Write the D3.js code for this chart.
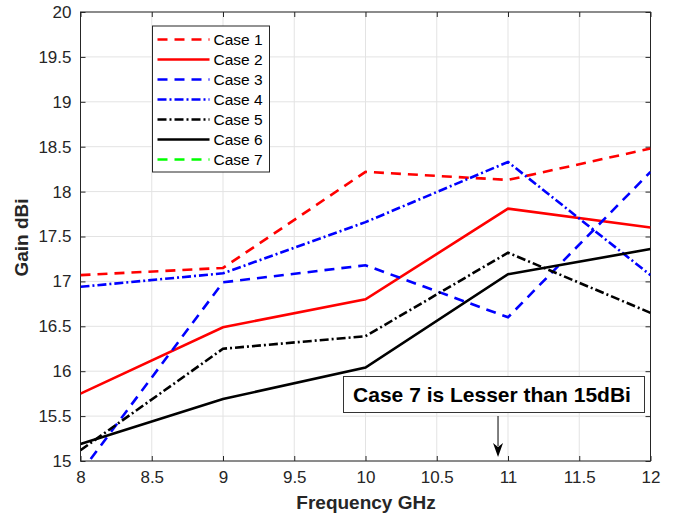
<!DOCTYPE html>
<html><head><meta charset="utf-8">
<script src="https://cdn.jsdelivr.net/npm/d3@7"></script>
<style>body{margin:0;background:#fff}svg{display:block}text{font-family:Arial,"Liberation Sans",sans-serif}</style>
</head><body><svg id="c" width="673" height="516"></svg>
<script>
const freqs = [8, 9, 10, 11, 12];
const case1 = [17.07, 17.15, 18.22, 18.13, 18.48];
const case2 = [15.75, 16.49, 16.80, 17.81, 17.60];
const case3 = [14.87, 16.99, 17.18, 16.60, 18.22];
const case4 = [16.94, 17.09, 17.66, 18.33, 17.07];
const case5 = [15.12, 16.25, 16.39, 17.32, 16.65];
const case6 = [15.19, 15.69, 16.04, 17.08, 17.36];
const case7 = [14.5, 14.5, 14.5, 14.5, 14.5];
const seriesNames = ["Case 1","Case 2","Case 3","Case 4","Case 5","Case 6","Case 7"];
const seriesValues = [case1, case2, case3, case4, case5, case6, case7];
const xTicks = [8, 8.5, 9, 9.5, 10, 10.5, 11, 11.5, 12];
const yTicks = [15, 15.5, 16, 16.5, 17, 17.5, 18, 18.5, 19, 19.5, 20];
const annotation = "Case 7 is Lesser than 15dBi";
const annotationX = 10.93;

const styles = [
  {c:"#ff0000", d:"10,7"},
  {c:"#ff0000", d:null},
  {c:"#0000ff", d:"10,7"},
  {c:"#0000ff", d:"9,3,2,3"},
  {c:"#000000", d:"9,3,2,3"},
  {c:"#000000", d:null},
  {c:"#00ff00", d:"10,7"}
];

const svg = d3.select("#c");
const L = 80.5, R = 650.5, T = 12, B = 461;
const x = d3.scaleLinear().domain([8, 12]).range([L, R]);
const y = d3.scaleLinear().domain([15, 20]).range([B, T]);

// grid
const g = svg.append("g");
g.selectAll(".vg").data(xTicks).enter().append("line")
  .attr("x1", d => x(d)).attr("x2", d => x(d)).attr("y1", T).attr("y2", B)
  .attr("stroke", "#e3e3e3").attr("stroke-width", 1);
g.selectAll(".hg").data(yTicks).enter().append("line")
  .attr("y1", d => y(d)).attr("y2", d => y(d)).attr("x1", L).attr("x2", R)
  .attr("stroke", "#e3e3e3").attr("stroke-width", 1);

// clip
svg.append("defs").append("clipPath").attr("id", "clip")
  .append("rect").attr("x", L).attr("y", T).attr("width", R - L).attr("height", B - T);

// axes
const axB = d3.axisBottom(x).tickValues(xTicks).tickSize(-5).tickPadding(10).tickFormat(d3.format("~g"));
const axT = d3.axisTop(x).tickValues(xTicks).tickSize(-5).tickFormat("");
const axLf = d3.axisLeft(y).tickValues(yTicks).tickSize(-5).tickPadding(9).tickFormat(d3.format("~g"));
const axRt = d3.axisRight(y).tickValues(yTicks).tickSize(-5).tickFormat("");
function styleAxis(sel){
  sel.selectAll("path").attr("stroke", "#262626").attr("stroke-width", 1);
  sel.selectAll("line").attr("stroke", "#262626");
  sel.selectAll("text").attr("fill", "#262626").style("font-size", "17px").style("font-family", "Arial, 'Liberation Sans', sans-serif");
}
svg.append("g").attr("transform", `translate(0,${B})`).call(axB).call(styleAxis);
svg.append("g").attr("transform", `translate(0,${T})`).call(axT).call(styleAxis);
svg.append("g").attr("transform", `translate(${L},0)`).call(axLf).call(styleAxis);
svg.append("g").attr("transform", `translate(${R},0)`).call(axRt).call(styleAxis);
svg.selectAll(".domain").attr("d", null);
svg.append("rect").attr("x", L).attr("y", T).attr("width", R - L).attr("height", B - T)
  .attr("fill", "none").attr("stroke", "#262626").attr("stroke-width", 1);

// lines
const line = d3.line().x((d, i) => x(freqs[i])).y(d => y(d));
const lg = svg.append("g").attr("clip-path", "url(#clip)");
seriesValues.forEach((vals, i) => {
  lg.append("path").attr("d", line(vals)).attr("fill", "none")
    .attr("stroke", styles[i].c).attr("stroke-width", 2.6)
    .attr("stroke-dasharray", styles[i].d);
});

// axis labels
svg.append("text").attr("x", 366).attr("y", 509).attr("text-anchor", "middle")
  .style("font-size", "19px").style("font-weight", "bold").attr("fill", "#262626").text("Frequency GHz");
svg.append("text").attr("transform", `translate(28,237.5) rotate(-90)`).attr("text-anchor", "middle")
  .style("font-size", "19px").style("font-weight", "bold").attr("fill", "#262626").text("Gain dBi");

// legend
const lgx = 152.5, lgy = 26;
const leg = svg.append("g");
leg.append("rect").attr("x", lgx).attr("y", lgy).attr("width", 117).attr("height", 146)
  .attr("fill", "#fff").attr("stroke", "#262626").attr("stroke-width", 1);
seriesNames.forEach((n, i) => {
  const yy = lgy + 13.5 + i * 20;
  leg.append("line").attr("x1", lgx + 5).attr("x2", lgx + 57).attr("y1", yy).attr("y2", yy)
    .attr("stroke", styles[i].c).attr("stroke-width", 2.6).attr("stroke-dasharray", styles[i].d);
  leg.append("text").attr("x", lgx + 61).attr("y", yy + 5.5).style("font-size", "15.5px")
    .attr("fill", "#000").text(n);
});

// annotation
svg.append("rect").attr("x", 343.5).attr("y", 376.5).attr("width", 301).attr("height", 36)
  .attr("fill", "#fff").attr("stroke", "#333").attr("stroke-width", 1);
svg.append("text").attr("x", 492).attr("y", 402).attr("text-anchor", "middle")
  .style("font-size", "21px").style("font-weight", "bold").attr("fill", "#000").text(annotation);
const ax = x(annotationX);
svg.append("line").attr("x1", ax).attr("x2", ax).attr("y1", 416).attr("y2", 446)
  .attr("stroke", "#000").attr("stroke-width", 1);
svg.append("path").attr("d", `M${ax - 5},${443} L${ax},${457} L${ax + 5},${443} L${ax},${447} Z`).attr("fill", "#000");
</script></body></html>
